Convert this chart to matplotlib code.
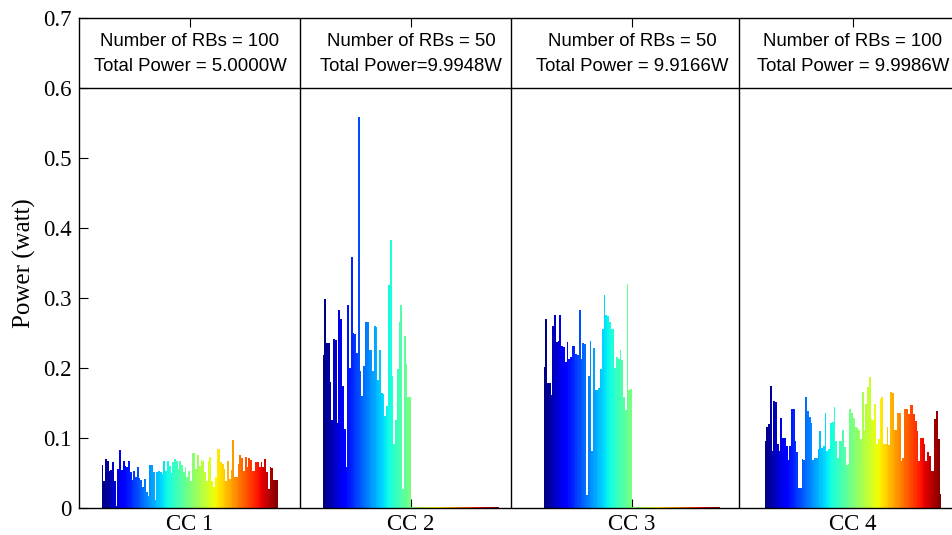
#!/usr/bin/env python
"""
Per-RB power allocation over four component carriers (CC 1..CC 4),
drawn as a MATLAB-style grouped bar chart with a jet colour ramp.
"""

import matplotlib
matplotlib.use("Agg")
import matplotlib.pyplot as plt
import numpy as np

CATEGORIES = ["CC 1", "CC 2", "CC 3", "CC 4"]
RB_LABELS = [
    "Number of RBs = 100",
    "Number of RBs = 50",
    "Number of RBs = 50",
    "Number of RBs = 100",
]
POWER_LABELS = [
    "Total Power = 5.0000W",
    "Total Power=9.9948W",
    "Total Power = 9.9166W",
    "Total Power = 9.9986W",
]

# power per RB (watt)
CC1_POWER = [
    0.062, 0.038, 0.070, 0.067, 0.053, 0.054, 0.066, 0.038, 0.003, 0.055,
    0.083, 0.054, 0.067, 0.060, 0.059, 0.067, 0.052, 0.040, 0.053, 0.044,
    0.059, 0.043, 0.040, 0.030, 0.041, 0.023, 0.017, 0.061, 0.061, 0.051,
    0.011, 0.051, 0.053, 0.052, 0.049, 0.067, 0.053, 0.067, 0.060, 0.050,
    0.065, 0.070, 0.067, 0.056, 0.067, 0.061, 0.051, 0.058, 0.044, 0.053,
    0.039, 0.078, 0.078, 0.056, 0.075, 0.060, 0.069, 0.067, 0.051, 0.039,
    0.067, 0.073, 0.039, 0.030, 0.044, 0.084, 0.084, 0.065, 0.063, 0.056,
    0.039, 0.067, 0.041, 0.054, 0.097, 0.044, 0.044, 0.063, 0.075, 0.072,
    0.053, 0.073, 0.058, 0.071, 0.069, 0.053, 0.053, 0.066, 0.065, 0.058,
    0.065, 0.059, 0.070, 0.052, 0.027, 0.058, 0.057, 0.040, 0.040, 0.040,
]
CC2_POWER = [
    0.218, 0.299, 0.236, 0.236, 0.180, 0.126, 0.241, 0.240, 0.122, 0.282,
    0.270, 0.174, 0.113, 0.058, 0.290, 0.200, 0.358, 0.250, 0.248, 0.221,
    0.558, 0.195, 0.160, 0.203, 0.266, 0.265, 0.225, 0.225, 0.195, 0.260,
    0.259, 0.182, 0.225, 0.164, 0.163, 0.132, 0.146, 0.318, 0.382, 0.188,
    0.091, 0.126, 0.199, 0.265, 0.290, 0.027, 0.245, 0.206, 0.159, 0.159,
]
CC3_POWER = [
    0.201, 0.270, 0.179, 0.178, 0.162, 0.260, 0.276, 0.237, 0.239, 0.276,
    0.231, 0.230, 0.209, 0.237, 0.212, 0.216, 0.231, 0.231, 0.220, 0.218,
    0.282, 0.213, 0.235, 0.234, 0.018, 0.189, 0.239, 0.082, 0.228, 0.168,
    0.168, 0.172, 0.198, 0.255, 0.304, 0.275, 0.274, 0.265, 0.256, 0.255,
    0.200, 0.215, 0.213, 0.225, 0.211, 0.159, 0.140, 0.320, 0.169, 0.170,
]
# unused RBs on CC 2 / CC 3 get almost nothing
UNUSED_POWER = [
    0.002, 0.002, 0.002, 0.002, 0.002, 0.002, 0.002, 0.002, 0.002, 0.002,
    0.002, 0.002, 0.002, 0.002, 0.002, 0.002, 0.002, 0.002, 0.002, 0.002,
    0.002, 0.002, 0.002, 0.002, 0.002, 0.002, 0.002, 0.002, 0.002, 0.002,
    0.002, 0.002, 0.002, 0.002, 0.002, 0.002, 0.002, 0.002, 0.002, 0.002,
    0.002, 0.002, 0.002, 0.002, 0.002, 0.002, 0.002, 0.002, 0.002, 0.002,
]
CC4_POWER = [
    0.095, 0.115, 0.120, 0.174, 0.082, 0.153, 0.152, 0.092, 0.081, 0.128,
    0.100, 0.100, 0.089, 0.069, 0.089, 0.141, 0.142, 0.096, 0.080, 0.029,
    0.028, 0.070, 0.068, 0.159, 0.139, 0.130, 0.121, 0.069, 0.072, 0.072,
    0.084, 0.110, 0.086, 0.089, 0.136, 0.081, 0.084, 0.121, 0.123, 0.144,
    0.095, 0.072, 0.096, 0.095, 0.111, 0.087, 0.062, 0.063, 0.141, 0.135,
    0.129, 0.115, 0.114, 0.112, 0.098, 0.165, 0.112, 0.148, 0.173, 0.187,
    0.127, 0.125, 0.148, 0.091, 0.098, 0.155, 0.159, 0.091, 0.091, 0.116,
    0.090, 0.165, 0.164, 0.111, 0.111, 0.136, 0.135, 0.067, 0.072, 0.141,
    0.141, 0.134, 0.147, 0.147, 0.134, 0.124, 0.110, 0.067, 0.100, 0.100,
    0.091, 0.067, 0.080, 0.074, 0.053, 0.053, 0.127, 0.139, 0.098, 0.020,
]

Y_TICKS = [0, 0.1, 0.2, 0.3, 0.4, 0.5, 0.6, 0.7]
Y_TICK_LABELS = ["0", "0.1", "0.2", "0.3", "0.4", "0.5", "0.6", "0.7"]

SERIF = "Liberation Serif"
SANS = "Liberation Sans"


def power_matrix():
    rows = [CC1_POWER, CC2_POWER + UNUSED_POWER, CC3_POWER + UNUSED_POWER, CC4_POWER]
    return np.array(rows)


def plot_grouped_bars(ax, data):
    n_groups, n_series = data.shape
    group_x = np.arange(1, n_groups + 1)
    group_width = 0.8
    slot = group_width / n_series
    cmap = plt.get_cmap("jet")
    for i in range(n_series):
        offset = -group_width / 2 + (i + 0.5) * slot
        ax.bar(group_x + offset, data[:, i], width=slot,
               color=cmap(i / (n_series - 1)), linewidth=0, zorder=2)


def main():
    plt.rcParams["font.family"] = SERIF
    fig = plt.figure(figsize=(9.53, 5.35), dpi=100)
    # right edge of the axes runs past the picture, as in the original crop
    ax = fig.add_axes([0.0834, 0.0505, 0.9276, 0.9165])

    plot_grouped_bars(ax, power_matrix())

    ax.set_xlim(0.5, 4.5)
    ax.set_ylim(0, 0.7)
    ax.set_xticks(range(1, len(CATEGORIES) + 1))
    ax.set_xticklabels(CATEGORIES)
    ax.set_yticks(Y_TICKS)
    ax.set_yticklabels(Y_TICK_LABELS)
    ax.tick_params(direction="in", length=6.5, width=0.8, labelsize=16.5,
                   top=True, right=True)
    ax.tick_params(axis="y", pad=5.5)
    ax.tick_params(axis="x", pad=4)
    for sp in ax.spines.values():
        sp.set_linewidth(1.0)

    ax.set_ylabel("Power (watt)", fontsize=18)
    ax.yaxis.set_label_coords(-0.0495, 0.5)

    # boxes with the per-carrier summary
    ax.axhline(0.6, color="black", linewidth=1.0, zorder=3)
    for xd in (1.5, 2.452, 3.486):
        ax.axvline(xd, color="black", linewidth=1.0, zorder=3)
    for k in range(len(CATEGORIES)):
        ax.text(k + 1, 0.660, RB_LABELS[k], ha="center", va="baseline",
                fontsize=13.4, family=SANS)
        ax.text(k + 1, 0.6233, POWER_LABELS[k], ha="center", va="baseline",
                fontsize=13.4, family=SANS)

    fig.savefig("out.png", dpi=100)


if __name__ == "__main__":
    main()
